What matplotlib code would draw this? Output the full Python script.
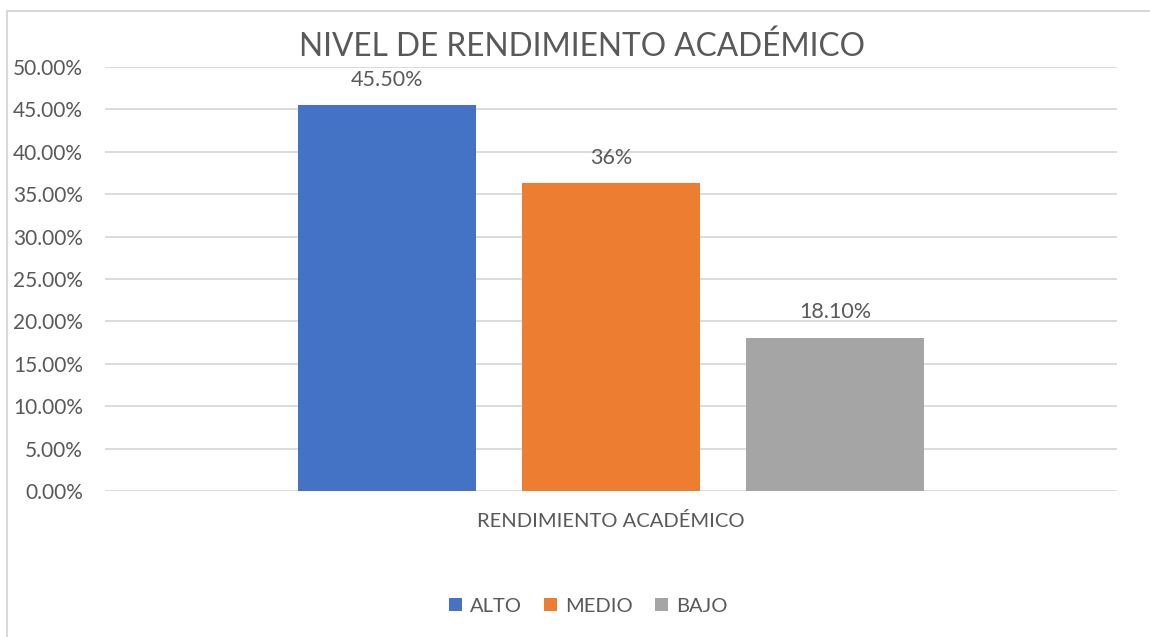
import matplotlib.pyplot as plt
from matplotlib.lines import Line2D
from matplotlib.ticker import FuncFormatter

plt.rcParams['font.family'] = ['Lato', 'DejaVu Sans']

category = "RENDIMIENTO ACADÉMICO"
series = ["ALTO", "MEDIO", "BAJO"]
values = [0.455, 0.363, 0.181]
value_labels = ["45.50%", "36%", "18.10%"]
colors = ['#4472C4', '#ED7D31', '#A5A5A5']
text_color = '#595959'
grid_color = '#d9d9d9'

fig = plt.figure(figsize=(11.5, 6.37), dpi=100)
ax = fig.add_axes([105 / 1150, 146 / 637, 1012 / 1150, 424 / 637])

width = 0.175
step = 0.2213
for i, (name, v, lab, c) in enumerate(zip(series, values, value_labels, colors)):
    x = (i - 1) * step
    ax.bar(x, v, width=width, color=c, label=name, zorder=3)
    ax.annotate(lab, (x, v), xytext=(0, 11), textcoords='offset points',
                ha='center', va='bottom', fontsize=15.5, color=text_color)

ax.set_xlim(-0.5, 0.5)
ax.set_ylim(0, 0.5)
ax.set_yticks([i * 0.05 for i in range(11)])
ax.yaxis.set_major_formatter(FuncFormatter(lambda y, p: f"{y * 100:.2f}%"))
ax.set_xticks([0])
ax.set_xticklabels([category])
ax.tick_params(axis='both', length=0, colors=text_color, labelsize=15)
ax.tick_params(axis='x', pad=15, labelsize=14.5)
ax.tick_params(axis='y', pad=16)
ax.grid(axis='y', color=grid_color, linewidth=1.3, zorder=0)
for s in ax.spines.values():
    s.set_visible(False)

fig.text(582 / 1150, 1 - 47 / 637, "NIVEL DE RENDIMIENTO ACADÉMICO",
         ha='center', va='center', fontsize=22.8, color=text_color)

leg = fig.legend(loc='center', bbox_to_anchor=(588 / 1150, 1 - 606 / 637), ncol=3,
                 frameon=False, fontsize=14.5, handlelength=0.65, handleheight=0.65,
                 handletextpad=0.4, columnspacing=1.1)
for t in leg.get_texts():
    t.set_color(text_color)

# chart area border (left and top edges visible)
fig.add_artist(Line2D([7 / 1150, 7 / 1150], [0, 1 - 11 / 637], transform=fig.transFigure,
                      color=grid_color, linewidth=1.5))
fig.add_artist(Line2D([7 / 1150, 1], [1 - 11 / 637, 1 - 11 / 637], transform=fig.transFigure,
                      color=grid_color, linewidth=1.5))

fig.savefig('out.png', dpi=100, facecolor='white')
